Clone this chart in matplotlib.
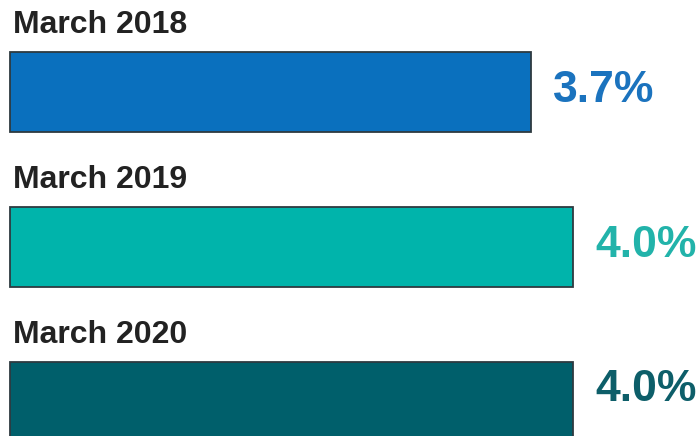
import matplotlib
matplotlib.use("Agg")
import matplotlib.pyplot as plt

# Data
periods = ["March 2018", "March 2019", "March 2020"]
rates = [3.7, 4.0, 4.0]
bar_colors = ["#0A70BE", "#00B4AB", "#005F6B"]
text_colors = ["#1B73BE", "#22B3AA", "#0D5E69"]

plt.rcParams["font.family"] = ["Liberation Sans", "DejaVu Sans"]

fig = plt.figure(figsize=(6.98, 4.36), dpi=100)
ax = fig.add_axes([0, 0, 1, 1])

ypos = list(range(len(periods)))
ax.barh(ypos, rates, height=0.516, color=bar_colors,
        edgecolor="#2e3a40", linewidth=1.3, left=0)

for y, label, val, tc in zip(ypos, periods, rates, text_colors):
    # category label above the bar
    ax.annotate(label, xy=(0, y - 0.258), xytext=(2, 13.5),
                textcoords="offset points", ha="left", va="baseline",
                fontsize=23, fontweight="bold", color="#222222")
    # value label to the right of the bar (last bar is cut off by the frame,
    # so its label sits a bit higher)
    dy = 9 if y == ypos[-1] else 1
    ax.annotate(f"{val:.1f}%", xy=(val, y), xytext=(16, dy),
                textcoords="offset points", ha="left", va="center",
                fontsize=32, fontweight="bold", color=tc)

px_per_unit = 563 / 4.0
ax.set_xlim(-10 / px_per_unit, 688 / px_per_unit)
ax.set_ylim((436 - 92) / 155, -92 / 155)
ax.axis("off")

fig.savefig("out.png", dpi=100)
